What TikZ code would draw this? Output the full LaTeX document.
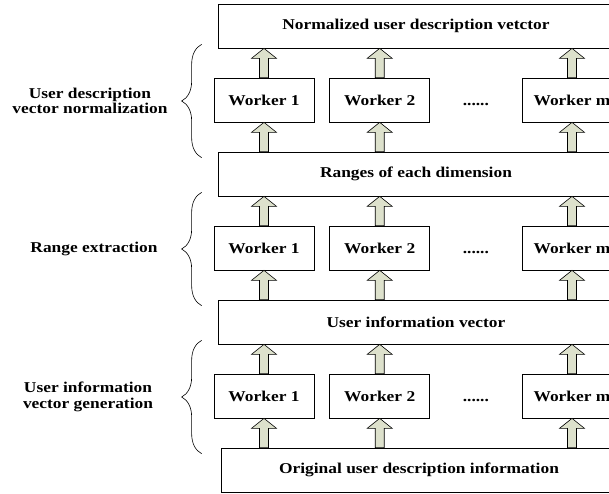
\documentclass[tikz,border=0pt]{standalone}
\usepackage{fontspec}
\setmainfont{Liberation Serif}[FakeStretch=1.16]
\usetikzlibrary{positioning,calc,decorations.pathreplacing}

\definecolor{arrowfill}{RGB}{221,225,204}

% block arrow from lower node #1 to upper node #2, on the axis of node #3
\newcommand{\blockarrow}[3]{%
  \draw[blockarr] let \p1=(#1.north -| #3), \p2=(#2.south -| #3) in
    (\x1-4.5pt,\y1) -- (\x1-4.5pt,\y2-10pt) -- (\x1-12.5pt,\y2-10pt) -- (\x1,\y2)
    -- (\x1+12.5pt,\y2-10pt) -- (\x1+4.5pt,\y2-10pt) -- (\x1+4.5pt,\y1) -- cycle;}

\begin{document}
\begin{tikzpicture}[x=1pt,y=-1pt,node distance=15pt,
  every node/.append style={align=center,font=\fontsize{15}{15.5}\selectfont\bfseries},
  wide/.style={draw, line width=0.7pt, minimum width=396pt, minimum height=44pt, inner sep=0pt},
  worker/.style={draw, line width=0.7pt, minimum width=100pt, minimum height=44pt, inner sep=0pt},
  blockarr/.style={draw, fill=arrowfill, line width=0.6pt, line join=miter},
  brace/.style={decorate, decoration={brace, amplitude=20pt}, line width=0.6pt}]
    \useasboundingbox (0,0) rectangle (609,493);
    \clip (0,0) rectangle (609,493);
    % wide boxes
    \node [wide] (normvec)  at (416,26)  {Normalized user description vetctor};
    \node [wide] (ranges)   at (416,174) {Ranges of each dimension};
    \node [wide] (infovec)  at (416,322) {User information vector};
    \node [wide] (original) at (419,470) {Original user description information};
    % workers, normalization
    \node [worker] (n1) at (264,100) {Worker 1};
    \node [worker, right=of n1] (n2) {Worker 2};
    \node [worker] (nm) at (572,100) {Worker m};
    \node [anchor=base] (nd) at ($(n2.base)!0.5!(nm.base)$) {......};
    % workers, range extraction
    \node [worker] (r1) at (264,248) {Worker 1};
    \node [worker, right=of r1] (r2) {Worker 2};
    \node [worker] (rm) at (572,248) {Worker m};
    \node [anchor=base] (rd) at ($(r2.base)!0.5!(rm.base)$) {......};
    % workers, vector generation
    \node [worker] (g1) at (264,396) {Worker 1};
    \node [worker, right=of g1] (g2) {Worker 2};
    \node [worker] (gm) at (572,396) {Worker m};
    \node [anchor=base] (gd) at ($(g2.base)!0.5!(gm.base)$) {......};
    % arrows
    \foreach \w in {n1,n2,nm} {\blockarrow{\w}{normvec}{\w} \blockarrow{ranges}{\w}{\w}}
    \foreach \w in {r1,r2,rm} {\blockarrow{\w}{ranges}{\w} \blockarrow{infovec}{\w}{\w}}
    \foreach \w in {g1,g2,gm} {\blockarrow{\w}{infovec}{\w} \blockarrow{original}{\w}{\w}}
    % stage braces and labels
    \draw [brace] ([xshift=-16pt,yshift=-6pt]ranges.north west) -- ([xshift=-16pt,yshift=4pt]normvec.south west);
    \draw [brace] ([xshift=-16pt,yshift=-6pt]infovec.north west) -- ([xshift=-16pt,yshift=4pt]ranges.south west);
    \draw [brace] ([xshift=-19pt,yshift=-6pt]original.north west) -- ([xshift=-16pt,yshift=4pt]infovec.south west);
    \node (normlab)  at (90,101) {User description\\vector normalization};
    \node (rangelab) at (94,249) {Range extraction};
    \node (genlab)   at (88,397) {User information\\vector generation};
\end{tikzpicture}
\end{document}
